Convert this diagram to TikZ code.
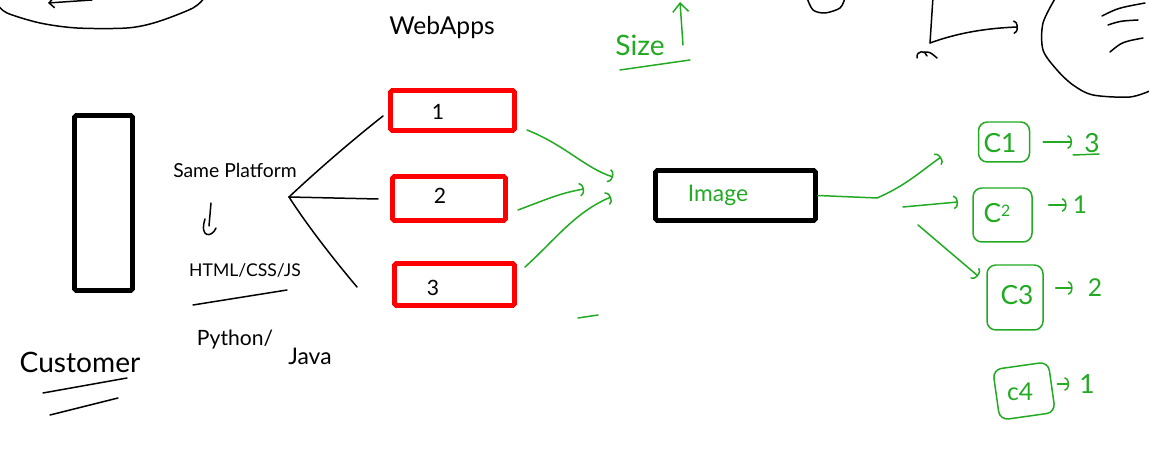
\documentclass[tikz,border=0pt]{standalone}
\usepackage{fontspec}
\setmainfont{Lato}
\usetikzlibrary{arrows.meta}
\definecolor{hgreen}{RGB}{34,170,34}
\definecolor{hred}{RGB}{255,0,0}
\newcommand\hfs[1]{\fontsize{#1}{#1}\selectfont}
\begin{document}
\begin{tikzpicture}[x=0.02cm,y=-0.02cm,
  ink/.style={line width=0.85pt, line cap=round, line join=round},
  gink/.style={ink, draw=hgreen},
  thickbox/.style={draw=black, line width=2.8pt, rounded corners=1pt, inner sep=0pt},
  redbox/.style={draw=hred, line width=2.8pt, rounded corners=1pt, inner sep=0pt},
  cbox/.style={draw=hgreen, line width=0.85pt, rounded corners=5pt, inner sep=0pt},
  barb/.style={-{Arc Barb[length=2.5pt,width=8pt]}},
  garrow/.style={gink, barb},
  karrow/.style={ink, barb},
  txt/.style={inner sep=0pt},
  gtxt/.style={inner sep=0pt, text=hgreen},
]
\useasboundingbox (0,0) rectangle (1149,465);
\fill[white] (0,0) rectangle (1149,465);

% ---------- top sketches ----------
\draw[ink] plot[smooth] coordinates {(-3,4) (7,13) (40,23) (77,28) (127,28) (157,22) (193,8) (205,-3)};
\draw[ink, -{Straight Barb[length=3pt,width=6pt]}] (92,0) -- (48,3);
\draw[ink] plot[smooth] coordinates {(807,-2) (813,10) (825,13) (840,8) (845,-2)};
\coordinate (axtop) at (933,-3);
\coordinate (axo) at (930,43);
\coordinate (axend) at (1018,27);
\draw[ink] (axtop) -- (axo);
\draw[karrow] (axo) .. controls (960,32) and (990,28) .. (axend);
\draw[ink] (917,58) .. controls (916,50) and (926,50) .. (927,56);
\draw[ink] (924,52) .. controls (930,52) .. (937,58);
\draw[ink] plot[smooth] coordinates {(1056,-3) (1043,23) (1043,50) (1057,70) (1073,85) (1093,95) (1130,97) (1152,90)};
\draw[ink] (1102,16) .. controls (1118,8) .. (1145,3);
\draw[ink] (1108,25) .. controls (1120,21) .. (1138,20);
\draw[ink] (1110,52) .. controls (1122,42) .. (1143,38);

\node[txt, font=\hfs{14}] (web) at (442,28) {WebApps};
\node[gtxt, font=\hfs{16}] (size) at (640,45) {Size};
\draw[gink] (620,70) -- (690,60);
\coordinate (sizeup) at (680,2);
\draw[gink, -{Straight Barb[length=5pt,width=9pt]}] (683,45) -- (sizeup);

% ---------- customer ----------
\node[thickbox, minimum width=1.16cm, minimum height=3.5cm] (cust) at (103.5,203) {};
\node[txt, font=\hfs{16}] (custlbl) at (80,362) {Customer};
\draw[ink] (43,393) -- (127,378);
\draw[ink] (50,415) -- (118,398);

% ---------- platform ----------
\node[txt, font=\hfs{11}] (same) at (235,170) {Same Platform};
\draw[ink] (211,203) -- (209,226);
\draw[ink] (205,219) .. controls (199,238) and (212,238) .. (216,228);
\node[txt, font=\hfs{10}] (html) at (245,270) {HTML/CSS/JS};
\draw[ink] (193,305) -- (287,290);
\node[txt, font=\hfs{12}] (py) at (235,340) {Python/};
\node[txt, font=\hfs{13}] (java) at (310,356) {Java};

% ---------- web app boxes ----------
\node[redbox, minimum width=2.48cm, minimum height=0.8cm] (b1) at (452.5,110.5) {};
\node[redbox, minimum width=2.26cm, minimum height=0.88cm] (b2) at (449,198.5) {};
\node[redbox, minimum width=2.4cm, minimum height=0.84cm] (b3) at (454.5,284.5) {};
\node[txt, font=\hfs{12}] (l1) at (438,112) {1};
\node[txt, font=\hfs{12}] (l2) at (440,196) {2};
\node[txt, font=\hfs{12}] (l3) at (433,288) {3};

\coordinate (fan) at (289,197);
\coordinate (f1) at (383,116);
\coordinate (f2) at (378,199);
\coordinate (f3) at (357,287);
\draw[ink] (fan) .. controls (305,182) and (340,150) .. (f1);
\draw[ink] (fan) -- (f2);
\draw[ink] (fan) .. controls (305,222) and (330,255) .. (f3);

% ---------- image ----------
\node[thickbox, minimum width=3.2cm, minimum height=1.0cm] (img) at (735.5,195.5) {};
\node[gtxt, font=\hfs{13}] (imglbl) at (718,195) {Image};

\coordinate (a1s) at (527,130);
\coordinate (a1e) at (613,177);
\coordinate (a2s) at (518,210);
\coordinate (a2e) at (584,189);
\coordinate (a3s) at (525,267);
\coordinate (a3e) at (611,197);
\draw[garrow] (a1s) .. controls (565,145) and (585,168) .. (a1e);
\draw[garrow] (a2s) .. controls (545,200) and (560,193) .. (a2e);
\draw[garrow] (a3s) .. controls (555,240) and (575,212) .. (a3e);
\draw[gink] (578,318) -- (598,315);

% ---------- C boxes ----------
\node[cbox, minimum width=1.02cm, minimum height=0.8cm] (c1) at (1004,142) {};
\node[cbox, minimum width=1.18cm, minimum height=1.08cm] (c2) at (1002.5,215) {};
\node[cbox, minimum width=1.12cm, minimum height=1.3cm] (c3) at (1015,297.5) {};
\node[cbox, minimum width=1.12cm, minimum height=1.02cm, rotate=8] (c4) at (1024,391) {};
\node[gtxt, font=\hfs{15}] (c1l) at (1000,143) {C1};
\node[gtxt, font=\hfs{15}] (c2l) at (997,213) {C\raisebox{0.45ex}{\hfs{9}2}};
\node[gtxt, font=\hfs{15}] (c3l) at (1017,295) {C3};
\node[gtxt, font=\hfs{14}] (c4l) at (1020,392) {c4};

\coordinate (g1s) at (877,198);
\coordinate (g1e) at (941,157);
\coordinate (g2s) at (903,207);
\coordinate (g2e) at (958,202);
\coordinate (g3s) at (918,225);
\coordinate (g3e) at (978,276);
\draw[gink] (img.east) -- (g1s);
\draw[garrow] (g1s) .. controls (905,186) and (920,172) .. (g1e);
\draw[garrow] (g2s) -- (g2e);
\draw[garrow] (g3s) -- (g3e);

% ---------- counts ----------
\node[gtxt, font=\hfs{15}] (n1) at (1092,143) {3};
\node[gtxt, font=\hfs{14}] (n2) at (1080,205) {1};
\node[gtxt, font=\hfs{14}] (n3) at (1095,288) {2};
\node[gtxt, font=\hfs{15}] (n4) at (1087,384) {1};
\draw[garrow, shorten <=0.26cm, shorten >=0.24cm] (c1.east) -- (c1.east -| n1.west);
\draw[gink] (1073,155) -- (1099,154);
\draw[garrow, shorten <=0.32cm, shorten >=0.12cm] (c2.east |- n2) -- (n2.west);
\draw[garrow, shorten <=0.24cm, shorten >=0.3cm] (c3.east |- n3) -- (n3.west);
\draw[garrow, shorten <=0.1cm, shorten >=0.2cm] (c4.east |- n4) -- (n4.west);
\end{tikzpicture}
\end{document}
